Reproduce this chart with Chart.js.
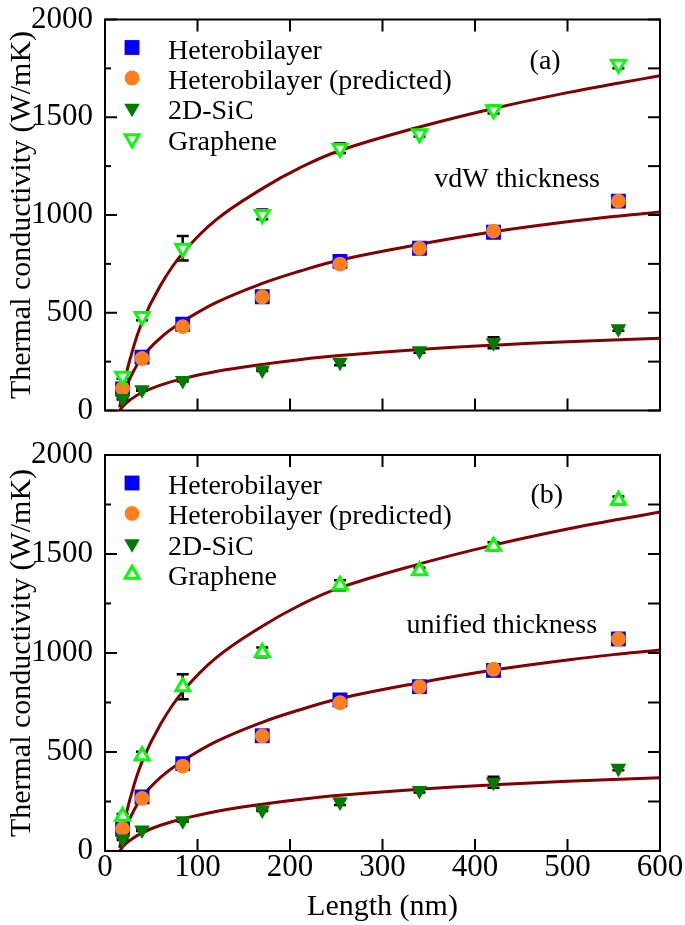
<!DOCTYPE html>
<html>
<head>
<meta charset="utf-8">
<script src="https://cdn.jsdelivr.net/npm/chart.js@4.4.0/dist/chart.umd.min.js"></script>
<style>
  body { margin: 0; background: #fff; }
  #wrap { position: relative; width: 685px; height: 925px; }
  .panel { position: absolute; left: 0; }
</style>
</head>
<body>
<div id="wrap">
  <div class="panel" style="top:0"><canvas id="chart-a" width="685" height="430"></canvas></div>
  <div class="panel" style="top:430px"><canvas id="chart-b" width="685" height="495"></canvas></div>
</div>
<script>
// measured points (length in nm, conductivity in W/mK)
const lengths = [19, 40, 84, 170, 254, 340, 420, 555];
const heteroK = [110, 273, 441, 582, 763, 830, 912, 1071];
const predictedK = [113, 266, 429, 581, 749, 830, 918, 1071];
const sicK = [61, 106, 153, 207, 247, 305, 347, 418];
const grapheneK = [175, 481, 830, 1003, 1342, 1416, 1539, 1771];
const grapheneErr = [12, 20, 63, 25, 25, 15, 20, 20];
const sicErr = [5, 5, 5, 5, 15, 10, 28, 10];

// fitted curves
const fitLengths = [16, 20, 27, 40, 60, 84, 120, 170, 210, 254, 340, 420, 500, 556, 600];
const fitGraphene = [15, 120, 262, 450, 640, 805, 975, 1135, 1240, 1330, 1450, 1545, 1626, 1675, 1712];
const fitHetero = [20, 82, 165, 272, 372, 455, 552, 650, 712, 770, 850, 914, 965, 995, 1015];
const fitSiC = [0, 25, 54, 92, 130, 163, 200, 236, 260, 281, 312, 334, 352, 362, 370];

const xTicks = [0, 100, 200, 300, 400, 500, 600];
const yTicks = [0, 500, 1000, 1500, 2000];
const yMinorTicks = [250, 750, 1250, 1750];

const serif = "'Liberation Serif', 'Times New Roman', serif";
const fitColor = "#800000";

const pts = (xs, ys) => xs.map((x, i) => ({ x, y: ys[i] }));

const frameTicks = {
  id: "frameTicks",
  afterDraw(chart) {
    const { ctx, chartArea: a, scales: { x, y } } = chart;
    const line = (x1, y1, x2, y2) => { ctx.beginPath(); ctx.moveTo(x1, y1); ctx.lineTo(x2, y2); ctx.stroke(); };
    ctx.save();
    ctx.strokeStyle = "#000";
    ctx.lineWidth = 2;
    ctx.strokeRect(a.left, a.top, a.right - a.left, a.bottom - a.top);
    xTicks.forEach(v => {
      const px = x.getPixelForValue(v);
      line(px, a.bottom, px, a.bottom - 12);
      line(px, a.top, px, a.top + 12);
    });
    yTicks.concat(yMinorTicks).forEach(v => {
      const py = y.getPixelForValue(v);
      const len = yTicks.includes(v) ? 12 : 6;
      line(a.left, py, a.left + len, py);
      line(a.right, py, a.right - 12, py);
    });
    ctx.restore();
  }
};

const errorBars = {
  id: "errorBars",
  beforeDatasetsDraw(chart) {
    const { ctx, scales: { x, y } } = chart;
    ctx.save();
    ctx.strokeStyle = "#000";
    ctx.lineWidth = 2.5;
    chart.data.datasets.forEach(ds => {
      if (!ds.errors) return;
      ds.data.forEach((p, i) => {
        const px = x.getPixelForValue(p.x);
        const top = y.getPixelForValue(p.y + ds.errors[i]);
        const bot = y.getPixelForValue(p.y - ds.errors[i]);
        ctx.beginPath();
        ctx.moveTo(px, top); ctx.lineTo(px, bot);
        ctx.moveTo(px - 6, top); ctx.lineTo(px + 6, top);
        ctx.moveTo(px - 6, bot); ctx.lineTo(px + 6, bot);
        ctx.stroke();
      });
    });
    ctx.restore();
  }
};

const insideLegend = {
  id: "insideLegend",
  afterDatasetsDraw(chart, args, opts) {
    const { ctx, chartArea: a } = chart;
    ctx.save();
    ctx.font = "28px " + serif;
    ctx.textBaseline = "alphabetic";
    let row = 0;
    chart.data.datasets.forEach(ds => {
      if (ds.fit) return;
      const cx = a.left + 27;
      const cy = a.top + 28 + row * 30.4;
      ctx.fillStyle = ds.pointBackgroundColor;
      ctx.strokeStyle = ds.pointBorderColor;
      ctx.lineWidth = ds.pointBorderWidth;
      Chart.helpers.drawPoint(ctx, {
        pointStyle: ds.pointStyle,
        radius: ds.pointRadius,
        rotation: ds.pointRotation || 0,
        borderWidth: ds.pointBorderWidth
      }, cx, cy);
      ctx.fillStyle = "#000";
      ctx.fillText(ds.label, a.left + 63, cy + 11);
      row++;
    });
    // panel tag and note
    const { x, y } = chart.scales;
    opts.texts.forEach(t => {
      ctx.fillText(t.text, x.getPixelForValue(t.at[0]), y.getPixelForValue(t.at[1]));
    });
    ctx.restore();
  }
};

function makeDatasets(grapheneRotation) {
  const fit = (vals) => ({
    data: pts(fitLengths, vals), fit: true, showLine: true,
    borderColor: fitColor, borderWidth: 3, pointRadius: 0,
    tension: 0.4, order: 5
  });
  return [
    { label: "Heterobilayer", data: pts(lengths, heteroK), pointStyle: "rect", pointRadius: 10.5,
      pointBackgroundColor: "#0000ff", pointBorderColor: "#0000ff", pointBorderWidth: 0, order: 4 },
    { label: "Heterobilayer (predicted)", data: pts(lengths, predictedK), pointStyle: "circle", pointRadius: 7.4,
      pointBackgroundColor: "#ff7f1f", pointBorderColor: "#ff7f1f", pointBorderWidth: 0, order: 3 },
    { label: "2D-SiC", data: pts(lengths, sicK), pointStyle: "triangle", pointRotation: 180, pointRadius: 9,
      pointBackgroundColor: "#007a00", pointBorderColor: "#007a00", pointBorderWidth: 0, order: 2, errors: sicErr },
    { label: "Graphene", data: pts(lengths, grapheneK), pointStyle: "triangle", pointRotation: grapheneRotation, pointRadius: 8,
      pointBackgroundColor: "#ffffff", pointBorderColor: "#00ff00", pointBorderWidth: 3, order: 1, errors: grapheneErr },
    fit(fitGraphene),
    fit(fitHetero),
    fit(fitSiC)
  ];
}

function makeChart(id, cfg) {
  return new Chart(document.getElementById(id), {
    type: "scatter",
    data: { datasets: makeDatasets(cfg.grapheneRotation) },
    plugins: [frameTicks, errorBars, insideLegend],
    options: {
      responsive: false,
      animation: false,
      events: [],
      layout: { padding: { top: cfg.padTop, right: 25, left: 0, bottom: 0 } },
      plugins: {
        legend: { display: false },
        tooltip: { enabled: false },
        insideLegend: { texts: cfg.texts }
      },
      scales: {
        x: {
          type: "linear", min: 0, max: 600,
          grid: { display: false }, border: { display: false },
          afterBuildTicks: s => { s.ticks = xTicks.map(v => ({ value: v })); },
          afterFit: s => { s.height = cfg.xHeight; },
          ticks: { display: cfg.showX, autoSkip: false, maxRotation: 0, padding: -8, color: "#000",
            callback: v => String(v),
            font: { family: serif, size: 31, lineHeight: 1.1 } },
          title: { display: cfg.showX, text: "Length (nm)", color: "#000",
            font: { family: serif, size: 30 }, padding: { top: 0, bottom: 0 } }
        },
        y: {
          type: "linear", min: 0, max: 2000,
          grid: { display: false }, border: { display: false },
          afterBuildTicks: s => { s.ticks = yTicks.map(v => ({ value: v })); },
          afterFit: s => { s.width = 105; },
          ticks: { padding: 4, color: "#000", callback: v => String(v),
            font: { family: serif, size: 31, lineHeight: 1 } },
          title: { display: true, text: "Thermal conductivity (W/mK)", color: "#000",
            font: { family: serif, size: 30 }, padding: { top: 4, bottom: 0 } }
        }
      }
    }
  });
}

makeChart("chart-a", {
  grapheneRotation: 180, padTop: 19, xHeight: 15, showX: false,
  texts: [{ text: "(a)", at: [459, 1746] }, { text: "vdW thickness", at: [356, 1145] }]
});
makeChart("chart-b", {
  grapheneRotation: 0, padTop: 25, xHeight: 74, showX: true,
  texts: [{ text: "(b)", at: [460, 1756] }, { text: "unified thickness", at: [326, 1099] }]
});
</script>
</body>
</html>
